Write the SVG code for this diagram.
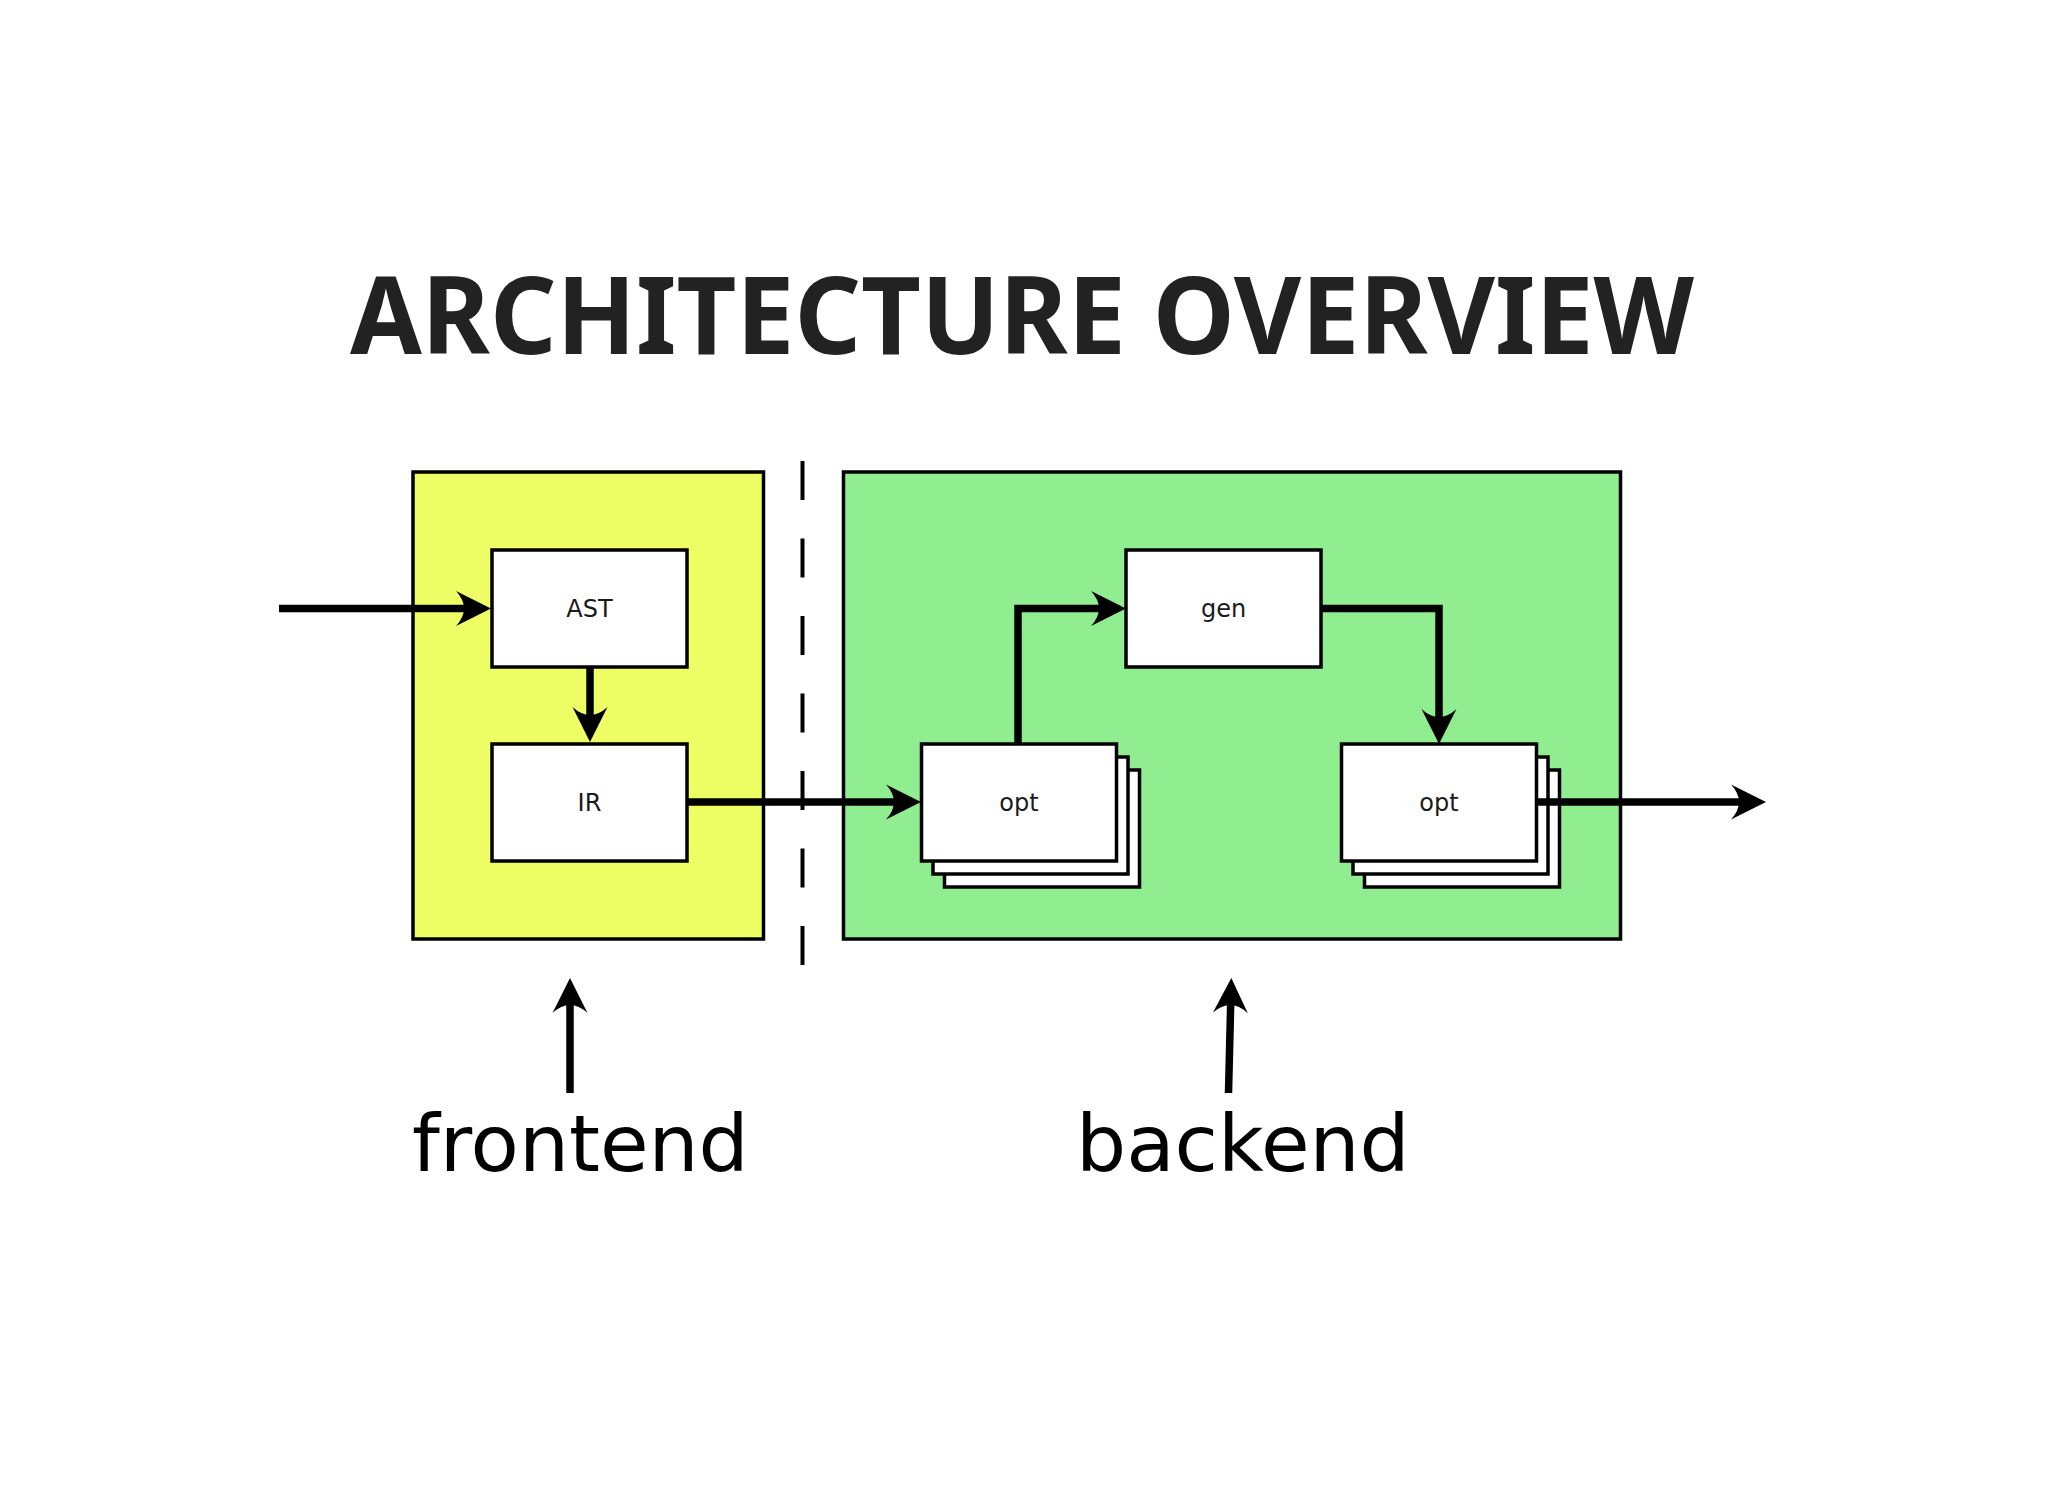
<svg xmlns="http://www.w3.org/2000/svg" width="2048" height="1492" viewBox="0 0 2048 1492">
<style>
.box{fill:#ffffff;stroke:#000;stroke-width:3.5}
.lbl{font-family:"DejaVu Sans",sans-serif;font-size:24px;fill:#1a1a1a;text-anchor:middle}
.big{font-family:"DejaVu Sans",sans-serif;font-size:79px;fill:#000}
.con{fill:none;stroke:#000;stroke-width:7.5;stroke-linejoin:miter;marker-end:url(#ah)}
</style>
<defs>
<marker id="ah" markerUnits="userSpaceOnUse" viewBox="0 -20 40 40" markerWidth="40" markerHeight="40" refX="14" refY="0" orient="auto">
<path d="M35,0 L0,-17.5 Q16,0 0,17.5 Z" fill="#000"/>
</marker>
</defs>
<rect width="2048" height="1492" fill="#ffffff"/>
<text x="350" y="354" font-family="'Noto Sans',sans-serif" font-weight="700" font-size="107" fill="#222222" textLength="1344" lengthAdjust="spacingAndGlyphs">ARCHITECTURE OVERVIEW</text>
<g id="frontend-region">
<rect x="413" y="472" width="350.5" height="467" fill="#eeff66" stroke="#000" stroke-width="3.5"/>
</g>
<g id="backend-region">
<rect x="843.5" y="472" width="777" height="467" fill="#90ee90" stroke="#000" stroke-width="3.5"/>
</g>
<g id="separator">
<path d="M802.5,461 V966" stroke="#000" stroke-width="4" stroke-dasharray="39 38.5" fill="none"/>
</g>
<g id="ast">
<rect class="box" x="492" y="550" width="195" height="117"/>
<text class="lbl" x="589.5" y="617">AST</text>
</g>
<g id="ir">
<rect class="box" x="492" y="744" width="195" height="117"/>
<text class="lbl" x="589.5" y="811">IR</text>
</g>
<g id="gen">
<rect class="box" x="1126" y="550" width="195" height="117"/>
<text class="lbl" x="1223.5" y="617">gen</text>
</g>
<g id="opt1">
<rect class="box" x="944.5" y="770" width="195" height="117"/>
<rect class="box" x="933" y="757" width="195" height="117"/>
<rect class="box" x="921.5" y="744" width="195" height="117"/>
<text class="lbl" x="1019" y="811">opt</text>
</g>
<g id="opt2">
<rect class="box" x="1364.5" y="770" width="195" height="117"/>
<rect class="box" x="1353" y="757" width="195" height="117"/>
<rect class="box" x="1341.5" y="744" width="195" height="117"/>
<text class="lbl" x="1439" y="811">opt</text>
</g>
<g id="connectors">
<path class="con" d="M279,608.5 H470"/>
<path class="con" d="M590,667 V721"/>
<path class="con" d="M687,802 H900"/>
<path class="con" d="M1018,744 V608.5 H1105"/>
<path class="con" d="M1321,608.5 H1439 V723"/>
<path class="con" d="M1535,802 H1745"/>
<path class="con" d="M570,1093 V999"/>
<path class="con" d="M1228.5,1093 L1230.8,999"/>
</g>
<g id="labels">
<text class="big" x="412" y="1171">frontend</text>
<text class="big" x="1076" y="1171">backend</text>
</g>
</svg>
